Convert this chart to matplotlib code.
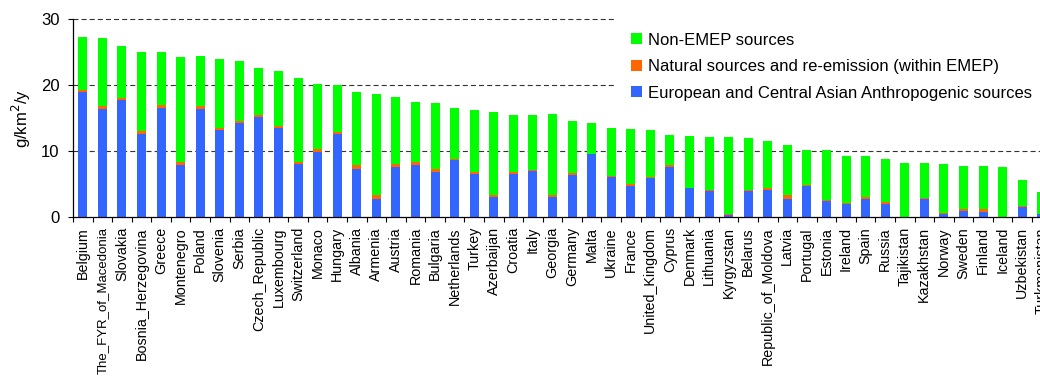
import numpy as np
import matplotlib
matplotlib.use('Agg')
import matplotlib.pyplot as plt

plt.rcParams['font.family'] = ['Liberation Sans', 'DejaVu Sans']

# Countries, sorted by total deposition
countries = ['Belgium', 'The_FYR_of_Macedonia', 'Slovakia', 'Bosnia_Herzegovina', 'Greece',
             'Montenegro', 'Poland', 'Slovenia', 'Serbia', 'Czech_Republic', 'Luxembourg',
             'Switzerland', 'Monaco', 'Hungary', 'Albania', 'Armenia', 'Austria', 'Romania',
             'Bulgaria', 'Netherlands', 'Turkey', 'Azerbaijan', 'Croatia', 'Italy', 'Georgia',
             'Germany', 'Malta', 'Ukraine', 'France', 'United_Kingdom', 'Cyprus', 'Denmark',
             'Lithuania', 'Kyrgyzstan', 'Belarus', 'Republic_of_Moldova', 'Latvia', 'Portugal',
             'Estonia', 'Ireland', 'Spain', 'Russia', 'Tajikistan', 'Kazakhstan', 'Norway',
             'Sweden', 'Finland', 'Iceland', 'Uzbekistan', 'Turkmenistan']

# g/km2/y by source type
anthropogenic = [19.0, 16.4, 17.8, 12.6, 16.6, 7.9, 16.4, 13.25, 14.3, 15.2, 13.55,
                 8.1, 9.9, 12.65, 7.3, 2.8, 7.6, 7.9, 6.85, 8.65, 6.6, 3.0, 6.6, 7.0, 3.0,
                 6.4, 9.6, 6.1, 4.8, 5.95, 7.6, 4.45, 3.95, 0.35, 3.95, 4.2, 2.8, 4.8,
                 2.45, 2.05, 2.8, 2.05, 0.0, 2.8, 0.55, 0.95, 0.85, 0.0, 1.55, 0.45]
natural = [0.3, 0.5, 0.3, 0.45, 0.4, 0.5, 0.4, 0.3, 0.3, 0.3, 0.25,
           0.3, 0.4, 0.3, 0.6, 0.6, 0.5, 0.5, 0.45, 0.15, 0.3, 0.4, 0.3, 0.2, 0.4,
           0.3, 0.05, 0.2, 0.3, 0.15, 0.3, 0.05, 0.15, 0.2, 0.25, 0.3, 0.5, 0.05,
           0.2, 0.15, 0.25, 0.2, 0.05, 0.15, 0.15, 0.3, 0.4, 0.05, 0.2, 0.05]
non_emep = [8.0, 10.2, 7.8, 11.95, 8.0, 15.8, 7.6, 10.45, 9.0, 7.1, 8.3,
            12.7, 9.9, 7.05, 11.1, 15.2, 10.1, 9.0, 10.0, 7.7, 9.3, 12.5, 8.6, 8.3, 12.2,
            7.9, 4.65, 7.2, 8.25, 7.1, 4.55, 7.8, 8.0, 11.55, 7.8, 7.05, 7.6, 5.35,
            7.55, 7.1, 6.25, 6.55, 8.15, 5.25, 7.35, 6.5, 6.5, 7.55, 3.9, 3.4]

x = np.arange(len(countries))
a = np.array(anthropogenic)
n = np.array(natural)
g = np.array(non_emep)

fig = plt.figure(figsize=(10.4, 3.77), dpi=100)
ax = fig.add_axes([73.0 / 1040, 1 - 217.3 / 377, 978.5 / 1040, 198.3 / 377])

w = 0.46
b1 = ax.bar(x, a, w, color='#3366FF', zorder=2, label='European and Central Asian Anthropogenic sources')
b2 = ax.bar(x, n, w, bottom=a, color='#FF6600', zorder=2, label='Natural sources and re-emission (within EMEP)')
b3 = ax.bar(x, g, w, bottom=a + n, color='#00FF00', zorder=2, label='Non-EMEP sources')

# dashed reference lines (the one at 30 doubles as the top border)
for yv in [10, 20, 30]:
    ax.axhline(yv, color='#333333', lw=0.8, ls=(0, (4.5, 2.8)), zorder=1, clip_on=False)

ax.set_xlim(-0.5, len(countries) - 0.5)
ax.set_ylim(0, 30)
ax.set_yticks([0, 10, 20, 30])
ax.tick_params(axis='y', labelsize=12, length=3.6, width=0.8, pad=6)
ax.set_xticks(x)
ax.set_xticklabels(countries, rotation=90, fontsize=10.3)
ax.tick_params(axis='x', length=0, pad=7)
# the longest name is set a bit smaller so it stays inside the figure
for lbl in ax.get_xticklabels():
    if len(lbl.get_text()) > 19:
        lbl.set_fontsize(9.5)
# tick marks sit between the bars
ax.set_xticks(np.arange(len(countries) + 1) - 0.5, minor=True)
ax.tick_params(axis='x', which='minor', length=3.6, width=0.8)

for s in ['top', 'right']:
    ax.spines[s].set_visible(False)
for s in ['left', 'bottom']:
    ax.spines[s].set_linewidth(0.9)
    ax.spines[s].set_color('black')

ax.set_ylabel('g/km$^2$/y', fontsize=12, labelpad=6)

leg = ax.legend(handles=[b3, b2, b1], loc='upper left',
                bbox_to_anchor=(614 / 1040, 1 - 16 / 377), bbox_transform=fig.transFigure,
                fontsize=12, frameon=True, fancybox=False, borderaxespad=0, borderpad=1.0,
                handlelength=0.66, handleheight=0.66, handletextpad=0.35, labelspacing=0.69)
leg.get_frame().set_facecolor('white')
leg.get_frame().set_edgecolor('none')
leg.get_frame().set_alpha(1)

fig.savefig('out.png', dpi=100)
